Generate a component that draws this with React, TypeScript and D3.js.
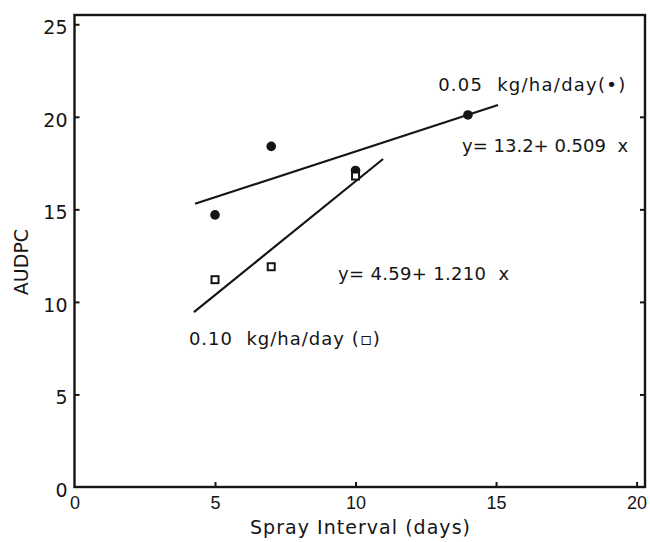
import React, { useEffect, useRef } from 'react';
import * as d3 from 'd3';

// spray interval (days) and AUDPC readings
const lowRateX = [5, 7, 10, 14];
const lowRateY = [14.7, 18.4, 17.1, 20.1];
const highRateX = [5, 7, 10];
const highRateY = [11.2, 11.9, 16.8];

// fitted lines as drawn: [x, y] end points
const lowFit = [[4.29, 15.3], [15.07, 20.64]];
const highFit = [[4.25, 9.45], [10.98, 17.72]];

const xTicks = [0, 5, 10, 15, 20];
const yTicks = [0, 5, 10, 15, 20, 25];

const App = () => {
  const ref = useRef<SVGSVGElement>(null);

  useEffect(() => {
    const svg = d3.select(ref.current);
    svg.selectAll('*').remove();

    const margin = { top: 15, right: 5, bottom: 55, left: 74.5 };
    const width = 650 - margin.left - margin.right;
    const height = 542 - margin.top - margin.bottom;

    const x = d3.scaleLinear().domain([0, 20.3]).range([0, width]);
    const y = d3.scaleLinear().domain([0, 25.5]).range([height, 0]);

    const g = svg.append('g').attr('transform', `translate(${margin.left},${margin.top})`);
    const font = '"DejaVu Sans", Verdana, sans-serif';
    const ink = '#151515';

    // frame
    g.append('rect')
      .attr('width', width)
      .attr('height', height)
      .attr('fill', 'none')
      .attr('stroke', ink)
      .attr('stroke-width', 2.4);

    // ticks point inward
    const xAxis = g.append('g')
      .attr('transform', `translate(0,${height})`)
      .call(d3.axisBottom(x).tickValues(xTicks).tickSize(-5).tickFormat(d3.format('d')));
    const yAxis = g.append('g')
      .call(d3.axisLeft(y).tickValues(yTicks).tickSize(-5).tickPadding(7).tickFormat(d3.format('d')));
    g.append('g')
      .attr('transform', `translate(${width},0)`)
      .call(d3.axisRight(y).tickValues(yTicks.slice(1, -1)).tickSize(-5).tickFormat(() => ''));

    g.selectAll('path.domain').remove();
    g.selectAll('.tick line').attr('stroke', ink).attr('stroke-width', 2);
    xAxis.selectAll('.tick line').filter(d => d === 0).remove();
    yAxis.selectAll('.tick line').filter(d => d === 0).remove();

    xAxis.selectAll('text')
      .attr('font-family', 'Liberation Sans, Arial, sans-serif')
      .attr('font-size', 18)
      .attr('fill', ink)
      .attr('y', 22)
      .attr('dy', 0);
    yAxis.selectAll('text')
      .attr('font-family', font)
      .attr('font-size', 19)
      .attr('fill', ink)
      .attr('dy', '0.5em');

    // regression lines
    const line = d3.line<number[]>().x(d => x(d[0])).y(d => y(d[1]));
    [lowFit, highFit].forEach(f => {
      g.append('path')
        .attr('d', line(f))
        .attr('fill', 'none')
        .attr('stroke', ink)
        .attr('stroke-width', 2.2);
    });

    // 0.05 kg/ha/day points
    g.selectAll('circle.low')
      .data(lowRateX)
      .enter()
      .append('circle')
        .attr('class', 'low')
        .attr('cx', d => x(d))
        .attr('cy', (d, i) => y(lowRateY[i]))
        .attr('r', 4.8)
        .attr('fill', ink);

    // 0.10 kg/ha/day points
    g.selectAll('rect.high')
      .data(highRateX)
      .enter()
      .append('rect')
        .attr('class', 'high')
        .attr('x', d => x(d) - 3.5)
        .attr('y', (d, i) => y(highRateY[i]) - 3.5)
        .attr('width', 7)
        .attr('height', 7)
        .attr('fill', '#fff')
        .attr('stroke', ink)
        .attr('stroke-width', 2);

    const label = (tx: number, ty: number, s: string, len: number) =>
      g.append('text')
        .attr('x', x(tx))
        .attr('y', y(ty))
        .attr('font-family', font)
        .attr('font-size', 18)
        .attr('fill', ink)
        .attr('textLength', len)
        .attr('lengthAdjust', 'spacing')
        .style('white-space', 'pre')
        .text(s);

    label(12.94, 21.39, '0.05  kg/ha/day(•)', 187);
    label(13.79, 18.1, 'y= 13.2+ 0.509  x', 166);
    label(9.38, 11.18, 'y= 4.59+ 1.210  x', 171);
    label(4.07, 7.67, '0.10  kg/ha/day (▫)', 191);

    // axis titles
    svg.append('text')
      .attr('x', 250)
      .attr('y', 534)
      .attr('font-family', font)
      .attr('font-size', 19)
      .attr('fill', ink)
      .attr('textLength', 220)
      .attr('lengthAdjust', 'spacing')
      .text('Spray Interval (days)');

    svg.append('text')
      .attr('transform', 'translate(28,262) rotate(-90)')
      .attr('text-anchor', 'middle')
      .attr('font-family', font)
      .attr('font-size', 19)
      .attr('fill', ink)
      .text('AUDPC');
  }, []);

  return (
    <svg
      ref={ref}
      width={650}
      height={542}
      style={{ position: 'absolute', left: 0, top: 0, background: '#fff' }}
    />
  );
};

export default App;
